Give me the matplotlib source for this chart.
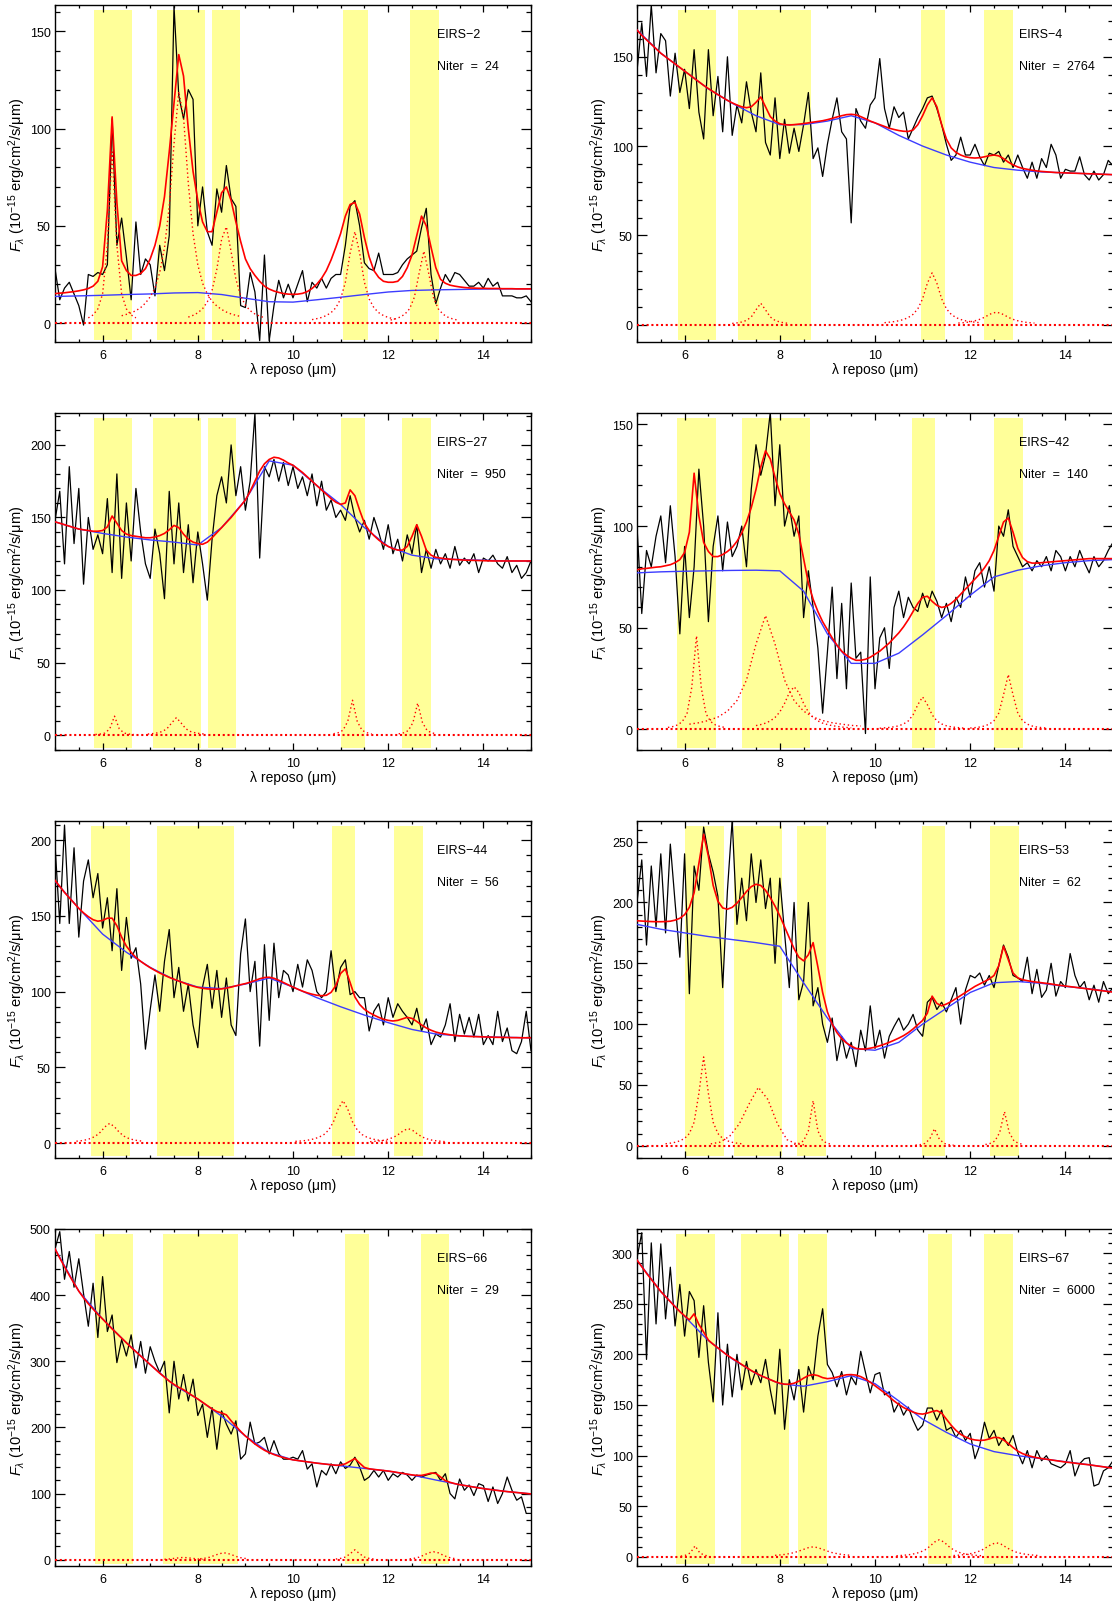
import numpy as np
import matplotlib
matplotlib.use("Agg")
import matplotlib.pyplot as plt
from matplotlib.ticker import MultipleLocator

plt.rcParams['font.family'] = ['Liberation Sans', 'DejaVu Sans']
plt.rcParams['mathtext.fontset'] = 'custom'
plt.rcParams['mathtext.rm'] = 'Liberation Sans'
plt.rcParams['mathtext.it'] = 'Liberation Sans:italic'

# spectra start at 5 micron; flux and model sampled every 0.1, continuum every 0.5
W0 = 5.0
DW = 0.1
DW_CONT = 0.5

# ---------------- EIRS-2 ----------------
eirs2_flux = [28, 12, 18, 21, 15, 9, -1, 25, 24, 26,
              25, 30, 105, 40, 54, 34, 12, 52, 25, 33,
              30, 14, 40, 27, 45, 163, 117, 105, 120, 115,
              50, 70, 47, 40, 69, 57, 81, 64, 60, 9,
              8, 26, 16, -9, 35, -9, 9, 22, 13, 20,
              13, 20, 27, 11, 21, 18, 23, 18, 23, 25,
              25, 40, 60, 63, 50, 31, 28, 27, 36, 25,
              25, 25, 26, 30, 33, 35, 37, 49, 59, 25,
              10, 18, 25, 21, 26, 25, 22, 19, 19, 21,
              18, 23, 19, 21, 14, 14, 14, 13, 13, 14, 11]
eirs2_cont = [13.7, 14, 14.3, 14.7, 15, 15.5, 15.7, 14.7, 12.8, 11, 10.8,
              12, 13.3, 14.7, 16, 16.8, 17.1, 17.3, 17.5, 17.6, 17.6]
eirs2_model = [15.2, 15.4, 15.6, 15.9, 16.2, 16.6, 17.1, 17.8, 19, 21.5,
               29, 58, 106, 62, 32, 27, 24.5, 24.5, 25.5, 28,
               33, 40, 50, 65, 88, 113, 138, 127, 100, 78,
               63, 52, 47, 47, 57, 67, 70, 63, 52, 42,
               33, 28, 24.5, 21.5, 19, 17.5, 16.5, 15.8, 15.2, 14.9,
               14.8, 14.9, 15.3, 16.2, 17.8, 20, 23, 27, 32.5, 39,
               46, 55, 61, 62, 56, 44, 34, 27, 23.5, 21.5,
               21, 21, 21.5, 24, 28.5, 35, 45, 55, 50, 39,
               28.5, 22.5, 20.5, 19.5, 19, 18.6, 18.3, 18.1, 18, 17.9,
               17.9, 17.8, 17.8, 17.8, 17.7, 17.7, 17.7, 17.6, 17.6, 17.6, 17.6]
eirs2_feat = [(5.7, 0.1, [2.7, 4.2, 7.3, 15, 40, 88, 40, 15, 7.3, 4.2, 2.7]),
              (6.4, 0.1, [3.8, 4.5, 5.3, 6.4, 8.0, 10.3, 13.5, 18, 26, 38.7, 60, 92, 119,
                          106, 72, 46, 30, 20.5, 15, 11.2, 8.8, 7, 5.7, 4.7, 4, 3.4]),
              (7.8, 0.1, [3.1, 4, 5.3, 7.4, 10.9, 16.9, 27.7, 43.1, 49.5, 36.7, 22.6,
                          14.1, 9.2, 6.4, 4.7, 3.6, 2.8]),
              (10.4, 0.1, [1.8, 2.3, 2.9, 3.9, 5.4, 7.9, 12.4, 21, 36, 47, 36, 21, 12.4,
                           7.9, 5.4, 3.9, 2.9, 2.3, 1.8]),
              (12.05, 0.1, [1.6, 2.2, 3.1, 4.6, 7.4, 13.3, 25.7, 37, 25.7, 13.3, 7.4,
                            4.6, 3.1, 2.2, 1.6])]
eirs2_bands = [(5.81, 6.62), (7.15, 8.15), (8.29, 8.89), (11.06, 11.57), (12.45, 13.06)]

# ---------------- EIRS-4 ----------------
eirs4_flux = [142, 169, 139, 179, 141, 163, 159, 128, 152, 130,
              143, 121, 154, 119, 104, 154, 117, 139, 108, 150,
              106, 123, 113, 136, 119, 108, 141, 102, 95, 127,
              93, 115, 96, 110, 97, 112, 130, 93, 99, 83,
              101, 115, 127, 108, 104, 57, 121, 114, 110, 123,
              127, 149, 121, 110, 122, 116, 119, 104, 110, 116,
              121, 127, 128, 121, 112, 101, 92, 95, 105, 95,
              95, 101, 94, 89, 96, 95, 97, 91, 95, 88,
              95, 88, 82, 91, 82, 93, 88, 101, 95, 82,
              87, 86, 86, 94, 84, 81, 86, 81, 84, 92, 89]
eirs4_cont = [165, 152, 142, 132, 124, 117, 112, 112, 114, 117, 113,
              106, 100, 95, 91, 88, 86.5, 85.5, 85, 84.5, 84]
eirs4_model = [165, 162, 159.5, 157, 154.5, 152, 150, 148, 146, 144,
               142, 140, 138, 136, 134, 132.2, 130.5, 128.8, 127.2, 125.6,
               124.2, 123, 122, 121.5, 122, 124.5, 127.5, 122, 116.5, 114,
               112.5, 112, 111.8, 112, 112.3, 112.6, 113, 113.4, 113.8, 114.2,
               114.8, 115.5, 116.3, 117, 117.6, 117.8, 117.5, 116.5, 115.3, 114,
               113, 112, 111, 110, 109.3, 108.7, 108.3, 108.2, 109, 112,
               117, 123, 127, 122, 112, 104, 99, 96.5, 95, 94,
               93.5, 93.3, 93.5, 94, 94.6, 95, 94.5, 93, 91, 89.5,
               88.3, 87.5, 87, 86.5, 86.1, 85.8, 85.6, 85.4, 85.2, 85.1,
               85, 84.9, 84.8, 84.7, 84.6, 84.5, 84.4, 84.3, 84.2, 84.1, 84]
eirs4_feat = [(7.0, 0.1, [0.7, 1.0, 1.5, 2.4, 4.3, 8.3, 12, 8.3, 4.3, 2.4, 1.5, 1.0, 0.7]),
              (10.2, 0.1, [1.1, 1.4, 1.7, 2.2, 2.9, 4.0, 5.8, 8.9, 14.5, 23.2, 29, 23.2,
                           14.5, 8.9, 5.8, 4.0, 2.9, 2.2, 1.7, 1.4, 1.1]),
              (11.75, 0.1, [0.9, 1.1, 1.4, 1.9, 2.5, 3.5, 4.9, 6.3, 7, 6.3, 4.9, 3.5,
                            2.5, 1.9, 1.4, 1.1, 0.9])]
eirs4_bands = [(5.87, 6.67), (7.12, 8.66), (10.97, 11.47), (12.28, 12.89)]

# ---------------- EIRS-27 ----------------
eirs27_flux = [148, 168, 118, 185, 132, 170, 104, 150, 128, 138,
               125, 163, 112, 180, 108, 160, 120, 170, 140, 118,
               108, 142, 125, 94, 168, 118, 160, 112, 145, 105,
               140, 118, 93, 135, 165, 178, 160, 200, 165, 185,
               155, 175, 222, 122, 185, 178, 190, 175, 188, 172,
               185, 170, 178, 165, 180, 158, 175, 155, 162, 150,
               155, 148, 165, 150, 140, 148, 135, 150, 140, 128,
               145, 125, 135, 120, 138, 125, 145, 112, 128, 115,
               128, 118, 125, 115, 130, 117, 122, 118, 125, 112,
               122, 120, 124, 118, 115, 123, 112, 117, 108, 112, 120]
eirs27_cont = [147, 142, 139, 136.5, 134.5, 133, 131, 143, 162, 189, 186,
               172, 159, 143, 130, 124, 121.5, 121, 120.5, 120, 120]
eirs27_model = [147, 146, 145, 144, 143, 142, 141.5, 141, 140.5, 140.5,
                141, 143.5, 151, 146, 141, 138.5, 137.5, 137, 136.5, 136,
                136, 136.5, 137.5, 139, 141.5, 144.5, 143, 138.5, 135, 133,
                132, 131.5, 133, 136, 139.5, 143, 146.5, 150, 154, 158,
                162, 168, 175, 182, 187, 190, 191.5, 191, 189.5, 187.5,
                186, 183.5, 181, 178, 175, 172, 169, 166, 163, 160.5,
                159, 160, 169, 165, 155, 146, 141, 137.5, 134.5, 132,
                130, 128.5, 127.5, 127.5, 130, 137, 145, 137, 127.5, 124,
                122.5, 122, 121.5, 121.2, 121, 120.8, 120.6, 120.5, 120.4, 120.3,
                120.2, 120.1, 120, 120, 120, 120, 120, 120, 120, 120, 120]
eirs27_feat = [(5.85, 0.1, [0.4, 0.7, 1.4, 4.3, 13, 4.3, 1.4, 0.7, 0.4]),
               (6.95, 0.1, [0.7, 1.0, 1.5, 2.4, 4.3, 8.3, 12, 8.3, 4.3, 2.4, 1.5, 1.0, 0.7]),
               (10.85, 0.1, [0.9, 1.6, 3.3, 9.4, 24, 9.4, 3.3, 1.6, 0.9]),
               (12.22, 0.1, [0.8, 1.5, 3.0, 8.6, 22, 8.6, 3.0, 1.5, 0.8])]
eirs27_bands = [(5.81, 6.62), (7.05, 8.06), (8.21, 8.81), (11.0, 11.51), (12.28, 12.9)]

# ---------------- EIRS-42 ----------------
eirs42_flux = [100, 57, 88, 80, 95, 105, 82, 110, 85, 47,
               90, 55, 80, 128, 100, 53, 90, 105, 78, 102,
               85, 90, 100, 80, 118, 140, 125, 135, 156, 110,
               140, 100, 110, 95, 105, 55, 78, 60, 40, 8,
               38, 70, 25, 62, 20, 72, 35, 38, -2, 75,
               20, 45, 50, 30, 60, 68, 55, 65, 60, 58,
               67, 60, 68, 63, 55, 62, 53, 65, 60, 75,
               65, 78, 82, 70, 80, 68, 100, 95, 108, 90,
               85, 80, 82, 78, 83, 80, 85, 78, 88, 85,
               78, 85, 80, 88, 82, 77, 85, 80, 83, 88, 92]
eirs42_cont = [77, 77.5, 77.8, 78, 78.2, 78.3, 78, 68, 47, 32.5, 32.5,
               37.5, 46.5, 56, 66, 75, 78.3, 80.5, 82, 83, 83.5]
eirs42_model = [78.5, 79, 79.2, 79.5, 79.8, 80, 80.5, 81, 82, 83.5,
                87, 97, 126, 105, 92, 87.5, 85, 85, 86, 87.5,
                89.5, 92.5, 96.5, 102, 109, 118, 129, 137, 133, 124,
                116, 111, 107, 103, 96, 84, 72, 64, 58, 53,
                49, 45, 41.5, 38.5, 36.5, 35, 34, 34, 34.5, 35.5,
                37, 38.5, 40.5, 42.5, 45, 47.5, 50.5, 54, 58, 62,
                65, 65.5, 63, 61, 60, 60.5, 62, 64, 66.5, 69,
                71.5, 74, 76.5, 79.5, 83, 88, 95, 102, 104, 97,
                89, 84.5, 82.5, 81.8, 81.8, 82, 82.2, 82.4, 82.6, 82.8,
                83, 83.2, 83.4, 83.6, 83.8, 84, 84, 84, 84, 84, 84]
eirs42_feat = [(5.65, 0.1, [1.0, 1.4, 2.2, 3.8, 7.7, 20.6, 46, 20.6, 7.7, 3.8, 2.2, 1.4, 1.0]),
               (6.1, 0.2, [2.6, 3.3, 4.4, 6.1, 9.0, 14.2, 24.3, 42, 56, 42, 24.3, 14.2,
                           9.0, 6.1, 4.4, 3.3, 2.6, 2.0, 1.7]),
               (7.5, 0.1, [1.9, 2.4, 3.1, 4.2, 5.9, 8.6, 12.8, 18.1, 21, 18.1, 12.8, 8.6,
                           5.9, 4.2, 3.1, 2.4, 1.9, 1.5, 1.2, 1.0, 0.8]),
               (10.1, 0.1, [0.6, 0.8, 1.0, 1.3, 1.8, 2.7, 4.2, 7.2, 12.2, 16, 12.2, 7.2,
                            4.2, 2.7, 1.8, 1.3, 1.0, 0.8, 0.6]),
               (12.0, 0.1, [0.7, 0.9, 1.2, 1.7, 2.6, 4.3, 8, 17, 27, 17, 8, 4.3, 2.6,
                            1.7, 1.2, 0.9, 0.7])]
eirs42_bands = [(5.84, 6.66), (7.2, 8.64), (10.77, 11.27), (12.49, 13.11)]

# ---------------- EIRS-44 ----------------
eirs44_flux = [197, 145, 210, 145, 195, 136, 173, 187, 162, 178,
               142, 162, 127, 168, 114, 149, 122, 129, 105, 62,
               88, 111, 87, 120, 141, 96, 116, 87, 105, 78,
               63, 103, 118, 89, 114, 83, 109, 78, 71, 125,
               148, 100, 120, 64, 131, 81, 132, 96, 114, 111,
               100, 118, 103, 121, 114, 100, 96, 100, 127, 100,
               116, 121, 98, 100, 96, 96, 74, 87, 92, 78,
               96, 83, 92, 87, 83, 78, 89, 74, 82, 65,
               72, 70, 78, 92, 67, 85, 72, 83, 70, 85,
               65, 71, 65, 87, 67, 76, 61, 59, 67, 87, 61]
eirs44_cont = [173, 155, 138, 126, 116, 108, 103, 102, 105, 109, 103,
               96, 90, 84.5, 79.5, 75, 72, 70.8, 70.2, 69.8, 69.5]
eirs44_model = [173.5, 169.5, 165.5, 162, 158.5, 155, 152, 149.5, 147.5, 146.5,
                147, 148.5, 148.5, 143.5, 136, 130, 126, 122.5, 120, 117.8,
                115.8, 114, 112.3, 110.8, 109.4, 108.2, 107, 105.8, 104.6, 103.6,
                102.8, 102.2, 101.8, 101.6, 101.6, 101.8, 102.3, 103, 103.8, 104.6,
                105.3, 106.2, 107.3, 108.5, 109.3, 109.5, 108.8, 107.5, 106, 104.5,
                103, 101.6, 100.3, 99.2, 98.3, 97.6, 97.3, 97.6, 99.5, 104,
                112, 115, 106, 96.5, 91.5, 88.3, 86.2, 84.5, 83, 81.8,
                81, 80.6, 81, 82, 83, 82.3, 80.3, 78, 76, 74.5,
                73.3, 72.5, 72, 71.5, 71.1, 70.8, 70.6, 70.4, 70.3, 70.2,
                70.1, 70, 69.9, 69.8, 69.8, 69.7, 69.6, 69.6, 69.5, 69.5, 69.5]
eirs44_feat = [(5.45, 0.1, [1.2, 1.5, 2.1, 3.0, 4.5, 7.1, 10.7, 13, 10.7, 7.1, 4.5, 3.0,
                            2.1, 1.5, 1.2]),
               (10.05, 0.1, [1.1, 1.3, 1.6, 2.1, 2.8, 3.9, 5.6, 8.6, 14, 22.4, 28, 22.4,
                             14, 8.6, 5.6, 3.9, 2.8, 2.1, 1.6, 1.3, 1.1]),
               (11.62, 0.1, [0.85, 1.1, 1.4, 1.9, 2.7, 3.9, 5.8, 8.2, 9.5, 8.2, 5.8, 3.9,
                             2.7, 1.9, 1.4, 1.1, 0.85])]
eirs44_bands = [(5.76, 6.58), (7.14, 8.75), (10.81, 11.31), (12.13, 12.74)]

# ---------------- EIRS-53 ----------------
eirs53_flux = [200, 235, 165, 230, 180, 240, 175, 248, 200, 155,
               240, 125, 230, 210, 262, 240, 225, 205, 130, 210,
               268, 182, 220, 185, 240, 200, 235, 195, 220, 150,
               220, 175, 130, 200, 120, 135, 200, 115, 130, 100,
               85, 105, 70, 90, 72, 85, 65, 95, 78, 115,
               80, 95, 72, 90, 98, 105, 95, 100, 108, 95,
               90, 118, 122, 112, 118, 110, 120, 130, 100, 128,
               140, 138, 142, 132, 140, 130, 148, 165, 155, 140,
               138, 135, 155, 125, 145, 122, 128, 150, 123, 135,
               130, 158, 140, 130, 135, 120, 132, 118, 135, 125, 130]
eirs53_cont = [182, 178, 175, 172, 169.5, 167, 164, 134, 105, 80, 78.5,
               85, 100, 113, 126, 134, 135, 133.5, 131, 129, 126.5]
eirs53_model = [185, 184.7, 184.5, 184.3, 184.2, 184.2, 184.3, 184.6, 185.5, 187,
                190, 196, 208, 232, 256, 238, 214, 201, 195.5, 194.5,
                196, 199.5, 204, 209, 213, 215, 214, 210, 204, 197,
                189, 180, 171, 162, 155, 152, 157, 167, 147, 126,
                110, 100, 93, 88, 84.5, 82, 80, 79.5, 79.5, 80.2,
                81, 82.2, 83.5, 85, 86.7, 88.5, 90.5, 93, 96, 99.5,
                103, 109, 123, 117, 115, 116.5, 118.5, 121, 123.5, 126,
                128.5, 131, 133, 135, 137, 140, 148, 164, 153, 142,
                138, 136.5, 135.7, 135, 134.5, 134, 133.5, 133, 132.3, 131.8,
                131.3, 130.8, 130.3, 129.8, 129.3, 128.8, 128.3, 127.8, 127.3, 126.8, 126.3]
eirs53_feat = [(5.6, 0.1, [1.6, 2.1, 2.8, 4.0, 6.0, 10, 19.3, 43, 73, 43, 19.3, 10, 6.0,
                           4.0, 2.8, 2.1, 1.6]),
               (6.55, 0.2, [1.5, 3, 8, 18, 34, 48, 38, 18, 5, 1.5, 0.5]),
               (8.3, 0.1, [1.1, 1.9, 4, 12.2, 37, 12.2, 4, 1.9, 1.1]),
               (10.85, 0.1, [0.5, 0.9, 1.9, 5.5, 14, 5.5, 1.9, 0.9, 0.5]),
               (12.32, 0.1, [1.0, 1.9, 3.9, 10.9, 28, 10.9, 3.9, 1.9, 1.0])]
eirs53_bands = [(6.01, 6.83), (7.04, 8.05), (8.37, 8.97), (10.98, 11.48), (12.42, 13.03)]

# ---------------- EIRS-66 ----------------
eirs66_flux = [470, 496, 424, 466, 412, 455, 402, 353, 418, 336,
               428, 345, 370, 298, 333, 308, 340, 290, 330, 282,
               322, 300, 283, 300, 222, 300, 243, 280, 240, 273,
               218, 235, 185, 230, 167, 225, 205, 190, 210, 152,
               160, 208, 175, 178, 185, 160, 180, 160, 152, 152,
               155, 152, 165, 137, 145, 110, 135, 128, 145, 130,
               148, 138, 143, 155, 140, 120, 125, 135, 125, 135,
               120, 130, 125, 132, 128, 120, 128, 125, 128, 130,
               132, 120, 130, 100, 92, 122, 105, 113, 97, 115,
               112, 88, 110, 85, 100, 125, 105, 90, 95, 70, 70]
eirs66_cont = [470, 406, 364, 328, 295, 264, 243, 217, 187, 162, 151,
               146, 142, 138, 134, 128, 120.5, 113.5, 107.5, 103, 99.5]
eirs66_model = [470, 456, 443, 430, 418, 406, 396, 387, 379, 371,
                364, 356.5, 349, 342, 335, 328, 321, 314.5, 308, 301.5,
                295, 288.5, 282, 276, 270, 265, 260.5, 257, 252, 247.5,
                243, 238, 233, 228, 224, 222, 219, 210, 202, 194,
                187, 181, 175, 170, 165.5, 162, 159, 156.5, 154.5, 152.5,
                151, 150, 149, 148, 147, 146, 145.2, 144.4, 143.6, 142.8,
                143, 145, 149, 153, 146, 139.5, 137.5, 136.5, 135.7, 134.9,
                134, 133, 131.8, 130.6, 129.4, 128.2, 127.5, 127.5, 129, 131,
                130.5, 125, 119.5, 117, 115, 113.5, 112.3, 111, 109.8, 108.6,
                107.5, 106.5, 105.6, 104.7, 103.8, 103, 102.3, 101.6, 100.9, 100.2, 99.5]
eirs66_feat = [(7.3, 0.1, [0.6, 1.1, 2, 2.8, 3.5, 2.8, 2, 1.1, 0.6]),
               (8.05, 0.1, [1.5, 2.3, 3.8, 6.5, 9, 10.5, 9, 6.5, 3.8, 2.3, 1.5]),
               (10.9, 0.1, [1, 2, 4, 9, 15, 9, 4, 2, 1]),
               (12.45, 0.1, [1.3, 2.2, 3.9, 7, 10.5, 12, 10.5, 7, 3.9, 2.2, 1.3])]
eirs66_bands = [(5.83, 6.63), (7.26, 8.85), (11.09, 11.6), (12.68, 13.28)]

# ---------------- EIRS-67 ----------------
eirs67_flux = [295, 320, 195, 310, 230, 309, 235, 286, 228, 269,
               218, 262, 253, 197, 248, 192, 153, 241, 150, 210,
               158, 200, 165, 193, 170, 185, 172, 195, 165, 141,
               205, 126, 175, 155, 185, 143, 188, 175, 218, 245,
               190, 182, 168, 183, 160, 178, 170, 203, 182, 162,
               180, 182, 160, 163, 143, 152, 140, 148, 135, 125,
               130, 147, 147, 135, 145, 125, 128, 118, 125, 115,
               122, 97, 110, 133, 117, 125, 110, 118, 110, 120,
               103, 92, 105, 88, 105, 95, 100, 92, 90, 88,
               92, 105, 80, 92, 97, 98, 70, 72, 85, 88, 95]
eirs67_cont = [293, 262, 237.5, 213.5, 195.5, 181, 171, 168.5, 173, 179, 171,
               154, 136, 123, 111.5, 104, 100, 97, 94, 91, 87.7]
eirs67_model = [293, 286.5, 280, 274, 268, 262, 257, 252, 247, 242.2,
                238, 234, 240, 229.5, 222, 214, 210, 206.3, 202.6, 199,
                196, 193, 190, 187, 184, 181.5, 179, 177, 175, 173,
                171.5, 170.5, 170.5, 171.5, 173.5, 176.5, 179, 180, 179, 177,
                176, 176.5, 177.5, 178.8, 179.8, 180, 179.5, 178, 175.5, 172.5,
                169, 165.5, 162, 158, 154, 150.5, 147.5, 145, 143, 141.5,
                141, 142, 143.5, 144.5, 142, 136, 130, 125, 121, 118.5,
                116.5, 115.5, 115, 115.3, 116.5, 118, 117.8, 115.5, 112, 108,
                104.5, 102, 100.3, 99, 98, 97.2, 96.5, 95.8, 95.1, 94.4,
                93.7, 93.2, 92.6, 92, 91.5, 91, 90.3, 89.6, 89, 88.3, 87.7]
eirs67_feat = [(5.92, 0.1, [0.8, 1.7, 4, 11, 4, 1.7, 0.8]),
               (7.9, 0.1, [1.6, 2, 2.5, 3.3, 4.3, 5.8, 7.5, 9.2, 10, 9.2, 7.5, 5.8, 4.3,
                           3.3, 2.5, 2, 1.6]),
               (10.45, 0.1, [1.2, 1.5, 1.9, 2.5, 3.4, 4.8, 7, 10.4, 14.7, 17, 14.7, 10.4,
                             7, 4.8, 3.4, 2.5, 1.9, 1.5, 1.2]),
               (11.65, 0.1, [1.4, 1.7, 2.2, 2.8, 3.7, 5, 7, 9.7, 12.6, 14, 12.6, 9.7, 7,
                             5, 3.7, 2.8, 2.2, 1.7, 1.4])]
eirs67_bands = [(5.81, 6.63), (7.18, 8.19), (8.39, 9.0), (11.11, 11.62), (12.28, 12.89)]

panels = [
    dict(name='EIRS\u22122', niter=24, flux=eirs2_flux, cont=eirs2_cont, model=eirs2_model,
         feat=eirs2_feat, bands=eirs2_bands, ylim=(-9.7, 163.5), yt=(50, 10)),
    dict(name='EIRS\u22124', niter=2764, flux=eirs4_flux, cont=eirs4_cont, model=eirs4_model,
         feat=eirs4_feat, bands=eirs4_bands, ylim=(-9.7, 179), yt=(50, 10)),
    dict(name='EIRS\u221227', niter=950, flux=eirs27_flux, cont=eirs27_cont, model=eirs27_model,
         feat=eirs27_feat, bands=eirs27_bands, ylim=(-10.3, 222), yt=(50, 10)),
    dict(name='EIRS\u221242', niter=140, flux=eirs42_flux, cont=eirs42_cont, model=eirs42_model,
         feat=eirs42_feat, bands=eirs42_bands, ylim=(-10.1, 155.6), yt=(50, 10)),
    dict(name='EIRS\u221244', niter=56, flux=eirs44_flux, cont=eirs44_cont, model=eirs44_model,
         feat=eirs44_feat, bands=eirs44_bands, ylim=(-9.9, 212.7), yt=(50, 10)),
    dict(name='EIRS\u221253', niter=62, flux=eirs53_flux, cont=eirs53_cont, model=eirs53_model,
         feat=eirs53_feat, bands=eirs53_bands, ylim=(-10.1, 267), yt=(50, 10)),
    dict(name='EIRS\u221266', niter=29, flux=eirs66_flux, cont=eirs66_cont, model=eirs66_model,
         feat=eirs66_feat, bands=eirs66_bands, ylim=(-9.5, 500), yt=(100, 20)),
    dict(name='EIRS\u221267', niter=6000, flux=eirs67_flux, cont=eirs67_cont, model=eirs67_model,
         feat=eirs67_feat, bands=eirs67_bands, ylim=(-8.9, 323.7), yt=(50, 10)),
]

YLABEL = '$F_\\lambda$ (10$^{-15}$ erg/cm$^2$/s/\u03bcm)'
XLABEL = '\u03bb reposo (\u03bcm)'


def plot_panel(ax, p):
    for lo, hi in p['bands']:
        ax.axvspan(lo, hi, ymin=0.006, ymax=0.985, color='#ffff99', lw=0, zorder=0)
    wave = W0 + DW * np.arange(len(p['flux']))
    ax.plot(wave, p['flux'], color='black', lw=0.9, zorder=2)
    wc = W0 + DW_CONT * np.arange(len(p['cont']))
    ax.plot(wc, p['cont'], color='#3c3cff', lw=1.0, zorder=3)
    ax.axhline(0, color='red', lw=1.5, ls=(0, (1, 1.3)), zorder=4)
    for start, step, vals in p['feat']:
        wf = start + step * np.arange(len(vals))
        ax.plot(wf, vals, color='red', lw=1.0, ls=(0, (1, 2)), zorder=4)
    wm = W0 + DW * np.arange(len(p['model']))
    ax.plot(wm, p['model'], color='red', lw=1.2, zorder=5)

    ax.set_xlim(5, 15)
    ax.set_ylim(*p['ylim'])
    ax.xaxis.set_major_locator(MultipleLocator(2))
    ax.xaxis.set_minor_locator(MultipleLocator(0.5))
    ax.yaxis.set_major_locator(MultipleLocator(p['yt'][0]))
    ax.yaxis.set_minor_locator(MultipleLocator(p['yt'][1]))
    ax.tick_params(which='both', direction='in', top=True, right=True, labelsize=9,
                   width=0.9, color='black')
    ax.tick_params(axis='x', which='major', length=5, pad=5)
    ax.tick_params(axis='x', which='minor', length=2.5)
    ax.tick_params(axis='y', which='major', length=7.5, pad=3)
    ax.tick_params(axis='y', which='minor', length=3.6)
    for s in ax.spines.values():
        s.set_linewidth(1.0)

    ax.text(0.803, 0.915, p['name'], transform=ax.transAxes, fontsize=9, va='center')
    ax.text(0.803, 0.82, 'Niter  =  %d' % p['niter'], transform=ax.transAxes,
            fontsize=9, va='center')
    ax.set_xlabel(XLABEL, fontsize=10)
    ax.xaxis.set_label_coords(0.5, -0.06)
    ax.set_ylabel(YLABEL, fontsize=10.5)
    ax.yaxis.set_label_coords(-0.056, 0.5)


FIG_W, FIG_H = 1112, 1606
col_left = [55, 637]
row_top = [6, 414, 822, 1230]
ax_w, ax_h = 476, 337

fig = plt.figure(figsize=(FIG_W / 100, FIG_H / 100), dpi=100)
for i, p in enumerate(panels):
    r, c = divmod(i, 2)
    rect = [col_left[c] / FIG_W, (FIG_H - row_top[r] - ax_h) / FIG_H, ax_w / FIG_W, ax_h / FIG_H]
    ax = fig.add_axes(rect)
    plot_panel(ax, p)

fig.savefig('out.png', dpi=100)
